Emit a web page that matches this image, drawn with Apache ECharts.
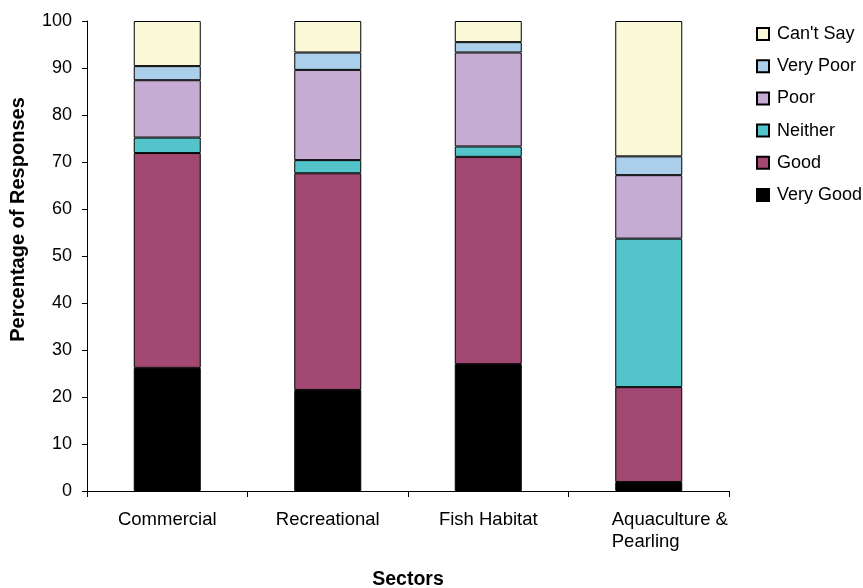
<!DOCTYPE html>
<html>
<head>
<meta charset="utf-8">
<script src="https://cdn.jsdelivr.net/npm/echarts@6/dist/echarts.min.js"></script>
<style>
  html, body { margin: 0; padding: 0; background: #fff; }
  #chart { width: 863px; height: 588px; }
</style>
</head>
<body>
<div id="chart"></div>
<script>
// Survey responses by sector (percent of responses)
const sectors = ['Commercial', 'Recreational', 'Fish Habitat', 'Aquaculture &\nPearling'];
const veryGood = [26.2, 21.5, 27.0, 1.9];
const good     = [45.7, 46.1, 44.1, 20.2];
const neither  = [3.3, 2.8, 2.2, 31.6];
const poor     = [12.2, 19.2, 20.0, 13.5];
const veryPoor = [3.0, 3.7, 2.2, 4.0];
const cantSay  = [9.6, 6.7, 4.5, 28.8];
const yTicks = [0, 10, 20, 30, 40, 50, 60, 70, 80, 90, 100];

const seriesDefs = [
  { name: 'Very Good', data: veryGood, color: '#000000' },
  { name: 'Good',      data: good,     color: '#A24872' },
  { name: 'Neither',   data: neither,  color: '#52C4CA' },
  { name: 'Poor',      data: poor,     color: '#C6ABD3' },
  { name: 'Very Poor', data: veryPoor, color: '#ABCFEB' },
  { name: "Can't Say", data: cantSay,  color: '#FAF8D6' }
];

const font = 'Arial, "Liberation Sans", sans-serif';
const chart = echarts.init(document.getElementById('chart'));

// Multi-line category names are drawn as a left-aligned block
function categoryLabel(v) {
  if (v.indexOf('\n') < 0) return v;
  return v.split('\n').map(line => '{m|' + line + '}').join('\n');
}

chart.setOption({
  animation: false,
  textStyle: { fontFamily: font, color: '#000' },
  grid: { left: 87, right: 134, top: 21, bottom: 97, containLabel: false, outerBoundsMode: 'none' },
  legend: {
    orient: 'vertical',
    left: 756,
    top: 25,
    padding: 0,
    itemWidth: 12,
    itemHeight: 12,
    itemGap: 14.2,
    icon: 'rect',
    textStyle: { fontFamily: font, fontSize: 18, color: '#000', padding: [0, 0, 0, 3] },
    data: seriesDefs.map(s => s.name).reverse()
  },
  xAxis: {
    type: 'category',
    data: sectors,
    name: 'Sectors',
    nameLocation: 'middle',
    nameGap: 79,
    nameTextStyle: { fontFamily: font, fontSize: 19.5, fontWeight: 'bold', color: '#000' },
    axisLine: { lineStyle: { color: '#000', width: 1 } },
    axisTick: { show: true, interval: 0, alignWithLabel: false, length: 6, lineStyle: { color: '#000' } },
    axisLabel: {
      interval: 0,
      fontFamily: font, fontSize: 18.5, color: '#000', margin: 18, lineHeight: 22,
      align: 'center',
      formatter: categoryLabel,
      rich: {
        m: { fontFamily: font, fontSize: 18.5, color: '#000', lineHeight: 22,
             width: 118, align: 'left', padding: [0, 0, 0, 44] }
      }
    },
    splitLine: { show: false }
  },
  yAxis: {
    type: 'value',
    min: 0,
    max: 100,
    interval: 10,
    name: 'Percentage of Responses',
    nameLocation: 'middle',
    nameGap: 59,
    nameTextStyle: { fontFamily: font, fontSize: 20, fontWeight: 'bold', color: '#000',
      padding: [0, 0, 0, 73] },
    axisLine: { show: true, lineStyle: { color: '#000', width: 1 } },
    axisTick: { show: true, length: 5, lineStyle: { color: '#000' } },
    axisLabel: { fontFamily: font, fontSize: 18, color: '#000', margin: 15,
      formatter: v => (yTicks.indexOf(v) >= 0 ? String(v) : '') },
    splitLine: { show: false }
  },
  series: seriesDefs.map(s => ({
    name: s.name,
    type: 'bar',
    stack: 'total',
    barWidth: 67,
    data: s.data,
    itemStyle: { color: s.color, borderColor: '#000', borderWidth: 1 }
  }))
});
</script>
</body>
</html>
